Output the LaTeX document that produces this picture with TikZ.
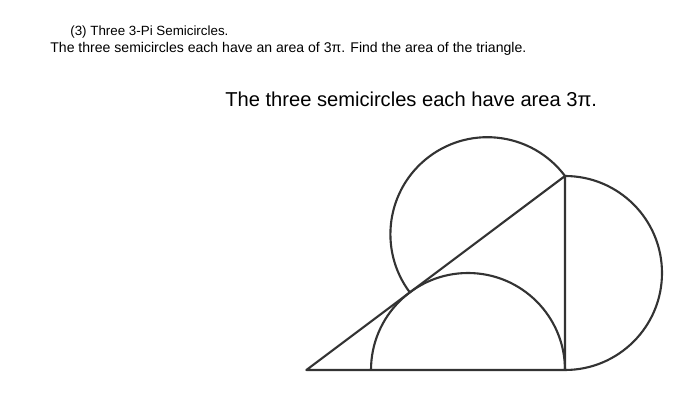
\documentclass[tikz,border=0pt]{standalone}
\usepackage{fontspec}
\setmainfont{Liberation Sans}
\begin{document}
\begin{tikzpicture}[
smalltext/.style={anchor=base west, inner sep=0pt, font=\fontsize{8}{9}\selectfont},
bigtext/.style={anchor=base west, inner sep=0pt, font=\fontsize{11.45}{13}\selectfont},
side/.style={draw=black!80, line width=1.2pt, line join=round}
]
    \useasboundingbox (0,0) rectangle (14,8.4);

    \node [smalltext, font=\fontsize{7.6}{9}\selectfont] (title) at (1.4,7.68) {(3) Three 3-Pi Semicircles.};
    \node [smalltext] (task) at (1.0,7.34) {The three semicircles each have an area of 3π. Find the area of the triangle.};
    \node [bigtext] (caption) at (4.5,6.26) {The three semicircles each have area 3π.};

    \coordinate (A) at (6.127,1.0);
    \coordinate (C) at (11.3,1.0);
    \coordinate (B) at (11.3,4.88);

    \draw [side] (A) -- (C) -- (B) -- cycle;
    \draw [side] (C) arc [start angle=0, end angle=180, radius=1.94];
    \draw [side] (C) arc [start angle=-90, end angle=90, radius=1.94];
    \draw [side] (B) arc [start angle=36.87, end angle=216.87, radius=1.94];

\end{tikzpicture}
\end{document}
